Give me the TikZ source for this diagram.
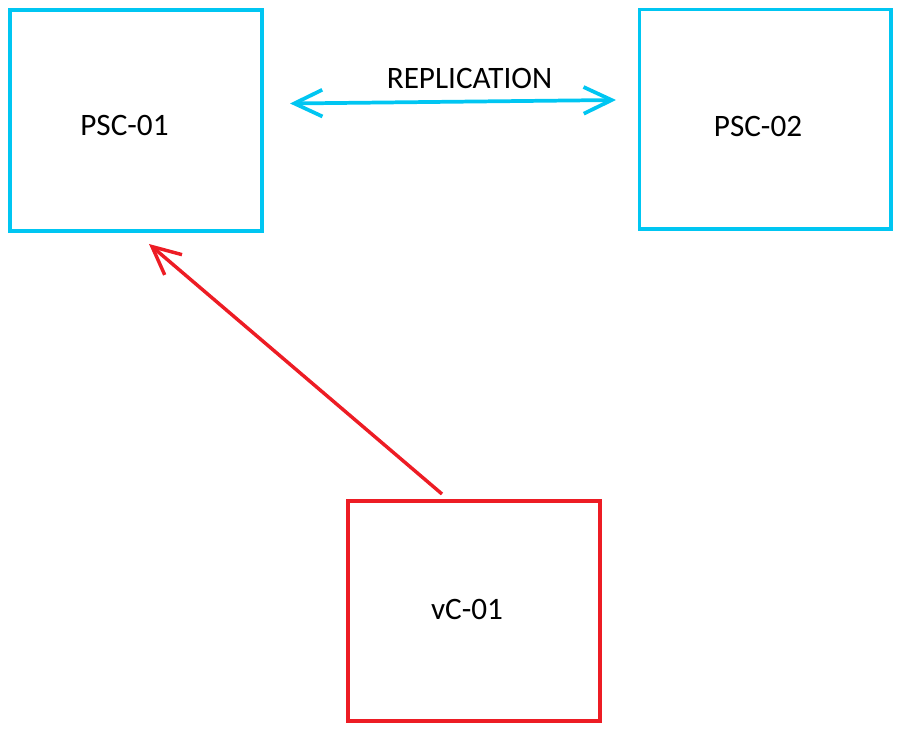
\documentclass[tikz,border=0pt]{standalone}
\usepackage{fontspec}
\setmainfont{Carlito}
\usetikzlibrary{arrows.meta}
\definecolor{pscblue}{RGB}{0,198,242}
\definecolor{vcred}{RGB}{237,28,36}
\tikzset{
  srvbox/.style={draw,line width=2.3pt,inner sep=0pt,outer sep=0pt},
  lbl/.style={inner sep=0pt,font=\fontsize{23.4}{28}\selectfont},
  barb/.style={line width=2.8pt,{Straight Barb[length=21pt,width=20pt]}-{Straight Barb[length=21pt,width=20pt]}}
}

\begin{document}
\begin{tikzpicture}[x=0.75pt,y=-0.75pt]
\useasboundingbox (0,0) rectangle (906,730);
\node[srvbox,pscblue,minimum width=189pt,minimum height=165.75pt] (psc1) at (136,120.5) {};
\node[srvbox,pscblue,minimum width=188.6pt,minimum height=164.6pt] (psc2) at (765.25,119.25) {};
\node[srvbox,vcred,minimum width=189pt,minimum height=165pt] (vc1) at (474,611) {};
\node[lbl] (psc1-t) at (124.5,125.5) {PSC-01};
\node[lbl] (psc2-t) at (758,126) {PSC-02};
\node[lbl] (vc1-t) at (467,609) {vC-01};
\node[lbl] (rep-t) at (469.5,78.5) {REPLICATION};
\coordinate (rep-l) at (290,103.5);
\coordinate (rep-r) at (616,100);
\coordinate (vc-top) at (442,494);
\coordinate (psc-bot) at (149,244);
\draw[barb,pscblue] (rep-l) -- (rep-r);
\draw[vcred,line width=2.6pt,-{Straight Barb[length=21pt,width=20pt]}] (vc-top) -- (psc-bot);
\end{tikzpicture}
\end{document}
